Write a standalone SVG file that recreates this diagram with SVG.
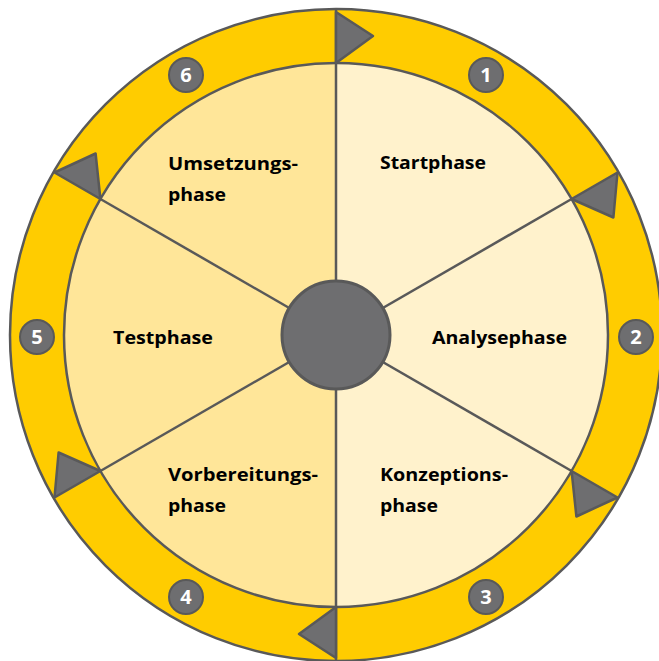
<svg xmlns="http://www.w3.org/2000/svg" width="659" height="661" viewBox="0 0 659 661">
<style>
.ln{stroke:#595959;stroke-width:2.5;fill:none}
.tri{fill:#6E6E70;stroke:#595959;stroke-width:2.5;stroke-linejoin:round}
.badge circle{fill:#6E6E70;stroke:#595959;stroke-width:2}
.badge text{fill:#fff;font-family:"Open Sans","Liberation Sans",sans-serif;font-weight:bold;font-size:20px;text-anchor:middle}
.lbl{font-family:"Open Sans","Liberation Sans",sans-serif;font-weight:bold;font-size:18px;fill:#000}
</style>
<rect width="659" height="661" fill="#fff"/>
<g id="ring">
<circle cx="336" cy="335" r="326" fill="#FFCC00" stroke="#595959" stroke-width="2.5"/>
</g>
<g id="sectors">
<circle cx="336" cy="335" r="272" fill="#FFF2CC"/>
<path d="M336 63 A272 272 0 0 0 336 607 Z" fill="#FFE699"/>
<circle cx="336" cy="335" r="272" class="ln"/>
</g>
<g id="connectors">
<line x1="336" y1="10" x2="336" y2="660" class="ln"/>
<line x1="336" y1="335" x2="571.6" y2="199" class="ln"/>
<line x1="336" y1="335" x2="571.6" y2="471" class="ln"/>
<line x1="336" y1="335" x2="100.4" y2="471" class="ln"/>
<line x1="336" y1="335" x2="100.4" y2="199" class="ln"/>
<polygon class="tri" points="336,63 336,12 373,36"/>
<polygon class="tri" points="571.6,199 617.5,172.5 613.4,217.5"/>
<polygon class="tri" points="571.6,471 617.5,497.5 576.4,516.5"/>
<polygon class="tri" points="336,607 336,658 299,634"/>
<polygon class="tri" points="100.4,471 54.5,497.5 58.6,452.5"/>
<polygon class="tri" points="100.4,199 54.5,172.5 95.6,153.5"/>
</g>
<g id="hub">
<circle cx="336" cy="335" r="54" fill="#6E6E70" stroke="#595959" stroke-width="3"/>
</g>
<g id="badge1" class="badge"><circle cx="486" cy="75" r="17"/><text x="486" y="82">1</text></g>
<g id="badge2" class="badge"><circle cx="636" cy="337" r="17"/><text x="636" y="344">2</text></g>
<g id="badge3" class="badge"><circle cx="486" cy="597" r="17"/><text x="486" y="604">3</text></g>
<g id="badge4" class="badge"><circle cx="186" cy="597" r="17"/><text x="186" y="604">4</text></g>
<g id="badge5" class="badge"><circle cx="37" cy="337" r="17"/><text x="37" y="344">5</text></g>
<g id="badge6" class="badge"><circle cx="186" cy="75" r="17"/><text x="186" y="82">6</text></g>
<g id="startphase"><text class="lbl" x="380" y="169" textLength="106" lengthAdjust="spacingAndGlyphs">Startphase</text></g>
<g id="analysephase"><text class="lbl" x="432" y="344" textLength="135" lengthAdjust="spacingAndGlyphs">Analysephase</text></g>
<g id="konzeptionsphase"><text class="lbl" x="380" y="481" textLength="128" lengthAdjust="spacingAndGlyphs">Konzeptions-</text><text class="lbl" x="380" y="512" textLength="58" lengthAdjust="spacingAndGlyphs">phase</text></g>
<g id="vorbereitungsphase"><text class="lbl" x="168" y="481" textLength="150" lengthAdjust="spacingAndGlyphs">Vorbereitungs-</text><text class="lbl" x="168" y="512" textLength="58" lengthAdjust="spacingAndGlyphs">phase</text></g>
<g id="testphase"><text class="lbl" x="113" y="344" textLength="100" lengthAdjust="spacingAndGlyphs">Testphase</text></g>
<g id="umsetzungsphase"><text class="lbl" x="168" y="170" textLength="130" lengthAdjust="spacingAndGlyphs">Umsetzungs-</text><text class="lbl" x="168" y="201" textLength="58" lengthAdjust="spacingAndGlyphs">phase</text></g>
</svg>
